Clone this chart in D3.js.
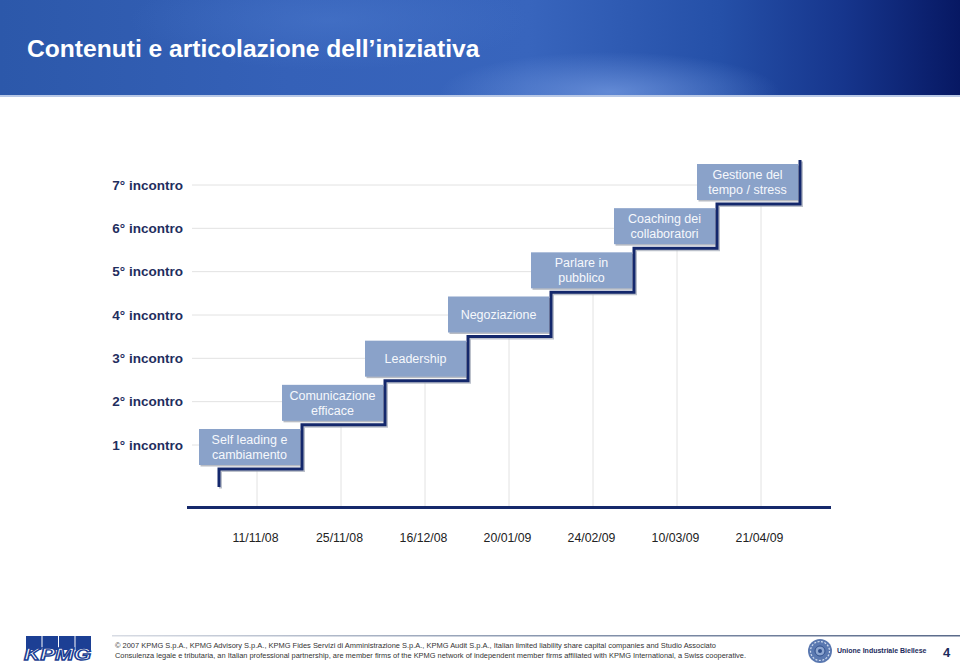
<!DOCTYPE html>
<html><head><meta charset="utf-8">
<script src="https://cdn.jsdelivr.net/npm/d3@7/dist/d3.min.js"></script>
<style>html,body{margin:0;padding:0;background:#fff;}svg{display:block;font-family:Arial,"Liberation Sans",sans-serif;}</style>
</head><body>
<script>
const title = "Contenuti e articolazione dell\u2019iniziativa";
const levels = [1,2,3,4,5,6,7];
const levelLabels = ["1° incontro","2° incontro","3° incontro","4° incontro","5° incontro","6° incontro","7° incontro"];
const dates = ["11/11/08","25/11/08","16/12/08","20/01/09","24/02/09","10/03/09","21/04/09"];
const topics = [["Self leading e","cambiamento"],["Comunicazione","efficace"],["Leadership"],["Negoziazione"],["Parlare in","pubblico"],["Coaching dei","collaboratori"],["Gestione del","tempo / stress"]];
const footer1 = "© 2007 KPMG S.p.A., KPMG Advisory S.p.A., KPMG Fides Servizi di Amministrazione S.p.A., KPMG Audit S.p.A., Italian limited liability share capital companies  and Studio Associato";
const footer2 = "Consulenza legale e tributaria, an Italian professional partnership, are member firms of the KPMG network of independent member firms affiliated with KPMG International, a Swiss cooperative.";

const W = 960, H = 665;
const svg = d3.select("body").append("svg").attr("width", W).attr("height", H);
const defs = svg.append("defs");

// header
defs.append("clipPath").attr("id","hc").append("rect").attr("x",0).attr("y",0).attr("width",W).attr("height",96);
const hg = defs.append("linearGradient").attr("id","hg").attr("x1",0).attr("x2",1).attr("y1",0).attr("y2",0);
[[0,"#2c58aa"],[0.3,"#3561b8"],[0.55,"#3865bd"],[0.75,"#2550a8"],[0.88,"#16358c"],[1,"#071863"]].forEach(s=>hg.append("stop").attr("offset",s[0]).attr("stop-color",s[1]));
const rg = defs.append("radialGradient").attr("id","rg").attr("cx",0.5).attr("cy",0.5).attr("r",0.5);
rg.append("stop").attr("offset",0).attr("stop-color","#6f95dd").attr("stop-opacity",0.8);
rg.append("stop").attr("offset",1).attr("stop-color","#6f95dd").attr("stop-opacity",0);
const rg2 = defs.append("radialGradient").attr("id","rg2").attr("cx",0.5).attr("cy",0.5).attr("r",0.5);
rg2.append("stop").attr("offset",0).attr("stop-color","#4a78cc").attr("stop-opacity",0.55);
rg2.append("stop").attr("offset",1).attr("stop-color","#4a78cc").attr("stop-opacity",0);
const hdr = svg.append("g").attr("clip-path","url(#hc)");
hdr.append("rect").attr("x",0).attr("y",0).attr("width",W).attr("height",96).attr("fill","url(#hg)");
hdr.append("ellipse").attr("cx",610).attr("cy",92).attr("rx",170).attr("ry",40).attr("fill","url(#rg)");
hdr.append("ellipse").attr("cx",330).attr("cy",20).attr("rx",200).attr("ry",50).attr("fill","url(#rg2)");
svg.append("rect").attr("x",0).attr("y",95).attr("width",W).attr("height",2).attr("fill","#b8c8e6");
svg.append("text").attr("x",27).attr("y",57).attr("fill","#fff").attr("font-size",24.6).attr("font-weight","bold").text(title);

// scales
const xStep = d3.scaleLinear().domain([0,7]).range([219,800]);
const xDate = d3.scalePoint().domain(dates).range([255,759]);
const yLev = d3.scaleLinear().domain([1,7]).range([447,182]);
const yGrid = d3.scaleLinear().domain([1,7]).range([445,185]);
const stepY = l => yLev(l) + 22;
const boxW = 101, boxH = 36;
const boxRight = i => xStep(i + 1) - 2;

// horizontal grid
svg.append("g").selectAll("line").data(levels).join("line")
  .attr("x1",192).attr("x2",(d,i)=>boxRight(i)-boxW)
  .attr("y1",d=>yGrid(d)).attr("y2",d=>yGrid(d))
  .attr("stroke","#e2e2e2").attr("stroke-width",1);
// vertical grid
svg.append("g").selectAll("line").data(dates).join("line")
  .attr("x1",d=>xDate(d)+2).attr("x2",d=>xDate(d)+2)
  .attr("y1",(d,i)=>stepY(levels[i])+2).attr("y2",506)
  .attr("stroke","#e2e2e2").attr("stroke-width",1);

// axis line
svg.append("line").attr("x1",187).attr("x2",831).attr("y1",507.5).attr("y2",507.5).attr("stroke","#15296b").attr("stroke-width",3);

// x axis labels
const xa = svg.append("g").attr("transform","translate(0,533)").call(d3.axisBottom(xDate).tickSize(0).tickPadding(0));
xa.select(".domain").remove();
xa.selectAll("text").attr("font-size",12.3).attr("fill","#222").attr("font-family","Arial, 'Liberation Sans', sans-serif");

// y axis labels
const ya = svg.append("g").attr("transform","translate(183,0)").call(d3.axisLeft(yGrid).tickValues(levels).tickFormat((d,i)=>levelLabels[i]).tickSize(0).tickPadding(0));
ya.select(".domain").remove();
ya.selectAll("text").attr("font-size",13.5).attr("font-weight","bold").attr("fill","#1f2e5e").attr("font-family","Arial, 'Liberation Sans', sans-serif");

// boxes
const bg = svg.append("g");
bg.selectAll("rect.sh").data(levels).join("rect").attr("class","sh")
  .attr("x",(d,i)=>boxRight(i)-boxW+1.5).attr("y",d=>yLev(d)-boxH/2+1.5)
  .attr("width",boxW).attr("height",boxH).attr("fill","#b8bcc4");
bg.selectAll("rect.bx").data(levels).join("rect").attr("class","bx")
  .attr("x",(d,i)=>boxRight(i)-boxW).attr("y",d=>yLev(d)-boxH/2)
  .attr("width",boxW).attr("height",boxH).attr("fill","#8aa2c9");
bg.selectAll("text").data(levels).join("text")
  .attr("x",(d,i)=>boxRight(i)-boxW/2)
  .attr("y",(d,i)=>yLev(d) - (topics[i].length-1)*7.5 + 4.5)
  .attr("text-anchor","middle").attr("font-size",12.5).attr("fill","#f6f8fc")
  .each(function(d,i){
    d3.select(this).selectAll("tspan").data(topics[i]).join("tspan")
      .attr("x",boxRight(i)-boxW/2).attr("dy",(t,j)=>j===0?0:15).text(t=>t);
  });

// staircase
const pts = [[xStep(0), 487]];
levels.forEach((l,i)=>{
  pts.push([xStep(i), stepY(l)]);
  pts.push([xStep(i+1), stepY(l)]);
});
pts.push([xStep(7), 160]);
const line = d3.line();
svg.append("path").attr("d",line(pts)).attr("fill","none").attr("stroke","#9098a8").attr("stroke-width",3).attr("opacity",0.6).attr("transform","translate(1.5,1.5)");
svg.append("path").attr("d",line(pts)).attr("fill","none").attr("stroke","#14286c").attr("stroke-width",3).attr("stroke-linejoin","miter");

// footer
const fg = defs.append("linearGradient").attr("id","fg").attr("x1",0).attr("x2",1);
fg.append("stop").attr("offset",0).attr("stop-color","#d8dce4");
fg.append("stop").attr("offset",0.5).attr("stop-color","#8a98b0");
fg.append("stop").attr("offset",1).attr("stop-color","#5a6a8a");
svg.append("rect").attr("x",112).attr("y",635).attr("width",848).attr("height",1.5).attr("fill","url(#fg)");
svg.append("text").attr("x",115).attr("y",648).attr("font-size",7.8).attr("fill","#333").attr("textLength",601).attr("lengthAdjust","spacingAndGlyphs").text(footer1);
svg.append("text").attr("x",115).attr("y",658).attr("font-size",7.8).attr("fill","#333").attr("textLength",631).attr("lengthAdjust","spacingAndGlyphs").text(footer2);

// KPMG logo
const kg = svg.append("g");
[0,1,2,3].forEach(k=>kg.append("rect").attr("x",26+k*16.5).attr("y",636).attr("width",15.5).attr("height",14).attr("fill","#1c3f94"));
kg.append("text").attr("x",24).attr("y",660).attr("font-size",17).attr("font-weight","bold").attr("font-style","italic")
  .attr("fill","#fff").attr("stroke","#1c3f94").attr("stroke-width",1.3).attr("textLength",67).attr("lengthAdjust","spacingAndGlyphs").text("KPMG");

// seal
const sg = svg.append("g").attr("transform","translate(820,651)");
sg.append("circle").attr("r",12).attr("fill","#5a78b0");
sg.append("circle").attr("r",9.5).attr("fill","none").attr("stroke","#d0dcef").attr("stroke-width",1.2).attr("stroke-dasharray","2,1.5");
sg.append("circle").attr("r",5).attr("fill","#8ea6d0").attr("stroke","#30508c");
sg.append("circle").attr("r",2).attr("fill","#30508c");
svg.append("text").attr("x",837).attr("y",653).attr("font-size",7).attr("font-weight","bold").attr("fill","#1c2b5c").text("Unione Industriale Biellese");
svg.append("text").attr("x",943).attr("y",657).attr("font-size",13).attr("font-weight","bold").attr("fill","#1c2b5c").text("4");
</script>
</body></html>
